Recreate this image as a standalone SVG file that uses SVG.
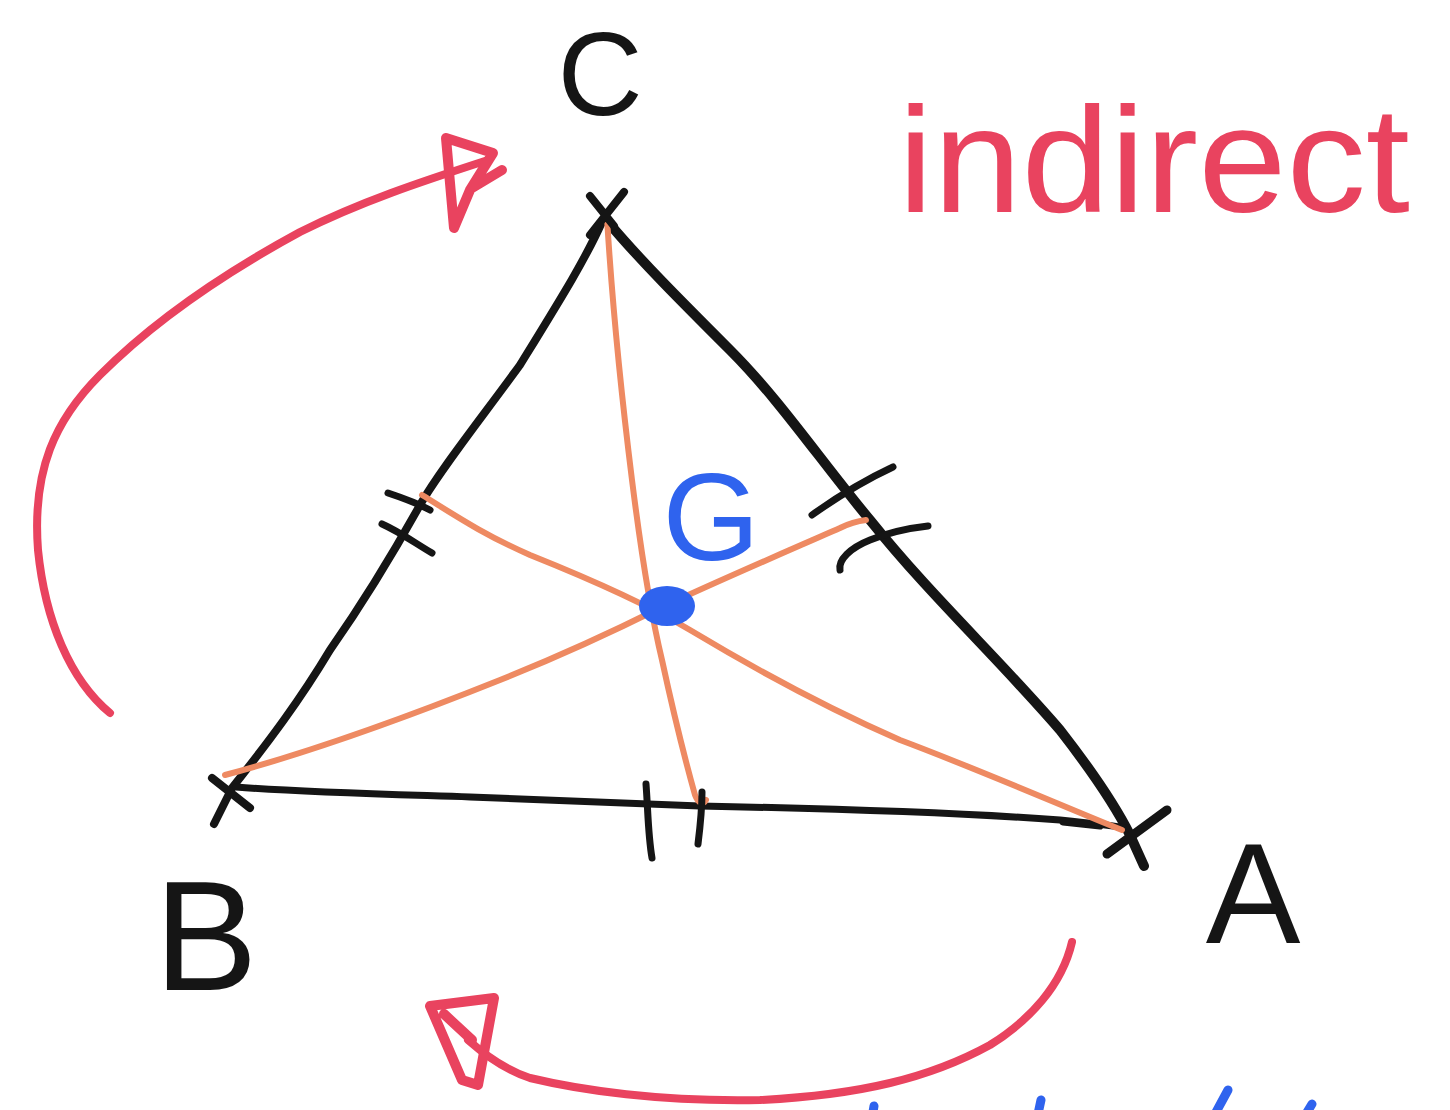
<svg xmlns="http://www.w3.org/2000/svg" width="1450" height="1110" viewBox="0 0 1450 1110">
<style>
.blk{fill:none;stroke:#151515;stroke-linecap:round;stroke-linejoin:round}
.med{fill:none;stroke:#ee8a62;stroke-width:6;stroke-linecap:round;stroke-linejoin:round}
.red{fill:none;stroke:#e9435f;stroke-linecap:round;stroke-linejoin:round}
.blu{fill:none;stroke:#2f63ee;stroke-width:9;stroke-linecap:round}
.lbl{font-family:"Liberation Sans","DejaVu Sans",sans-serif;fill:#151515;text-anchor:middle}
</style>
<rect width="1450" height="1110" fill="#ffffff"/>
<g id="connectors">
  <!-- triangle sides -->
  <path class="blk" stroke-width="8" d="M602,222 C585,260 560,300 520,365 C480,420 440,470 420,505 C395,550 365,600 330,650 C300,700 270,740 232,788 L214,824"/>
  <path class="blk" stroke-width="10" d="M608,222 C640,260 680,300 730,350 C780,400 820,460 870,520 C930,595 1000,660 1060,730 C1095,775 1115,805 1130,835 L1144,866"/>
  <path class="blk" stroke-width="7" d="M236,787 C300,792 380,794 470,797 C560,800 640,804 700,806 C800,808 950,812 1060,820 C1090,823 1110,825 1126,828"/>
  <path class="blk" stroke-width="7" d="M1063,822 L1100,826"/>
  <!-- medians -->
  <path class="med" d="M607,218 C612,300 622,400 632,480 C642,560 650,610 662,660 C675,720 688,770 695,795 C698,803 703,806 706,800"/>
  <path class="med" d="M225,775 C300,755 400,720 500,680 C570,652 620,628 660,608 C720,580 790,550 840,528 C850,523 858,521 866,520"/>
  <path class="med" d="M1122,830 C1060,805 980,770 900,740 C820,705 740,660 690,630 C640,600 580,575 530,555 C480,533 450,512 422,495"/>
  <!-- red arrows -->
  <path class="red" stroke-width="8" d="M110,713 C70,680 45,620 38,550 C32,470 55,420 100,375 C160,315 230,270 300,232 C360,202 420,182 488,160"/>
  <path class="red" stroke-width="10" d="M446,138 L493,153 L470,190 L454,228 Z M472,188 L502,170"/>
  <path class="red" stroke-width="8" d="M1072,942 C1062,985 1030,1020 990,1045 C930,1078 860,1095 760,1100 C660,1102 580,1090 530,1078 C505,1070 485,1055 468,1040"/>
  <path class="red" stroke-width="10" d="M430,1006 L494,998 L478,1085 L462,1080 L430,1006 M444,1014 L472,1040"/>
</g>
<g id="ticks">
  <path class="blk" stroke-width="7" d="M388,493 C400,497 415,502 430,510"/>
  <path class="blk" stroke-width="7" d="M382,524 C400,532 415,543 432,553"/>
  <path class="blk" stroke-width="7" d="M812,515 C840,495 865,480 893,467"/>
  <path class="blk" stroke-width="7" d="M840,570 C838,560 850,548 870,540 C890,532 910,528 928,526"/>
  <path class="blk" stroke-width="7" d="M646,784 C648,810 648,835 652,858"/>
  <path class="blk" stroke-width="7" d="M702,792 C702,810 700,828 698,844"/>
</g>
<g id="vertex-C">
  <path class="blk" stroke-width="8" d="M590,196 L614,226 M624,192 L590,235"/>
  <text class="lbl" x="600" y="115" font-size="118">C</text>
</g>
<g id="vertex-B">
  <path class="blk" stroke-width="8" d="M212,778 L250,808"/>
  <text class="lbl" x="206" y="990" font-size="155">B</text>
</g>
<g id="vertex-A">
  <path class="blk" stroke-width="9" d="M1107,854 L1167,810"/>
  <text class="lbl" x="1253" y="943" font-size="142">A</text>
</g>
<g id="centroid-G">
  <ellipse cx="667" cy="606" rx="28" ry="20" fill="#2f63ee"/>
  <text x="711" y="560" font-family="Liberation Sans, DejaVu Sans, sans-serif" font-size="125" fill="#2f63ee" text-anchor="middle">G</text>
</g>
<g id="label-indirect">
  <text x="898" y="212" font-family="Liberation Sans, DejaVu Sans, sans-serif" font-size="150" fill="#e9435f" textLength="512" lengthAdjust="spacingAndGlyphs">indirect</text>
</g>
<g id="cut-blue-marks">
  <path class="blu" d="M874,1106 L873,1112"/>
  <path class="blu" d="M1041,1100 L1038,1114"/>
  <path class="blu" d="M1228,1090 L1215,1114"/>
  <path class="blu" d="M1312,1104 L1306,1114"/>
</g>
</svg>
